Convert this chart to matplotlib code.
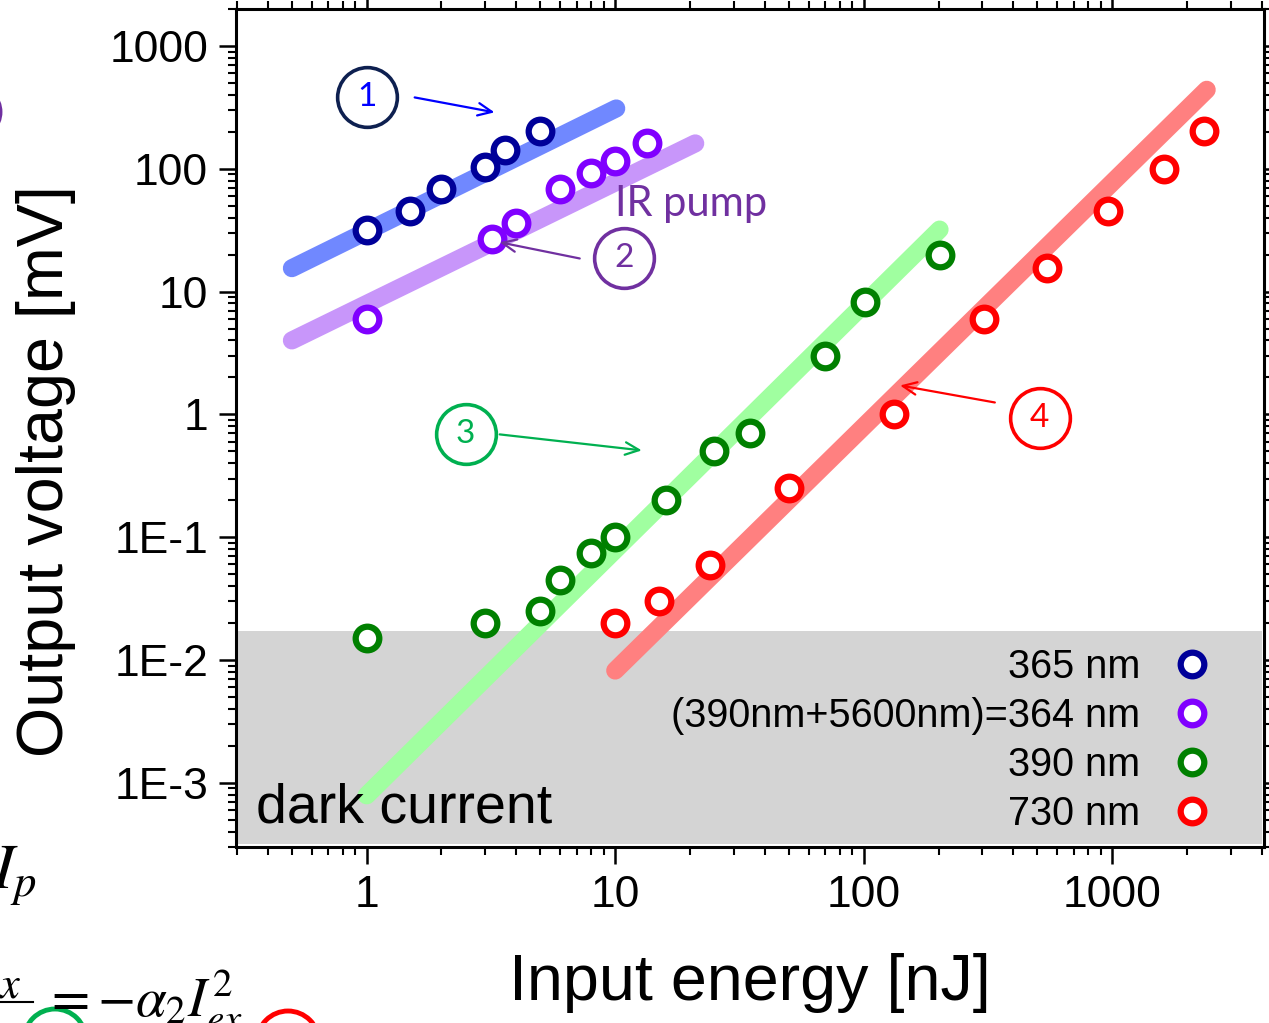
import matplotlib
matplotlib.use('Agg')
import matplotlib.pyplot as plt
from matplotlib.patches import Ellipse
from matplotlib.lines import Line2D
from matplotlib.transforms import IdentityTransform
from matplotlib.ticker import FixedLocator, LogLocator, NullFormatter

plt.rcParams['font.family'] = ['Liberation Sans', 'DejaVu Sans']
plt.rcParams['mathtext.fontset'] = 'stix'

# measured points (input energy nJ, output voltage mV)
x365 = [1.0, 1.5, 2.0, 3.0, 3.6, 5.0]
y365 = [32, 45, 69, 103, 141, 202]

x364 = [1.0, 3.2, 4.0, 6.0, 8.0, 10.0, 13.4]
y364 = [6.0, 26.6, 36, 68, 93, 115, 161]

x390 = [1.0, 3.0, 5.0, 6.0, 8.0, 10.0, 16, 25, 35, 70, 101, 202]
y390 = [0.015, 0.02, 0.025, 0.045, 0.075, 0.1, 0.2, 0.5, 0.71, 3.0, 8.2, 20]

x730 = [10, 15, 24, 50, 133, 304, 545, 960, 1610, 2350]
y730 = [0.02, 0.03, 0.059, 0.25, 1.0, 6.0, 15.7, 45, 99, 202]

# guide lines (slope 1 and slope 2), end points
fit365_x = [0.5, 10.1]
fit365_y = [15.5, 310]
fit364_x = [0.5, 21]
fit364_y = [4.0, 161]
fit390_x = [1.0, 202]
fit390_y = [7.9e-4, 32]
fit730_x = [10, 2400]
fit730_y = [8.2e-3, 440]

labels = ['365 nm', '(390nm+5600nm)=364 nm', '390 nm', '730 nm']
colors = ['#000099', '#8000ff', '#008000', '#ff0000']
fit_colors = ['#7088ff', '#c896fa', '#a0ffa0', '#ff8080']

dark_level = 0.0172

xticks = [1, 10, 100, 1000]
xticklabels = ['1', '10', '100', '1000']
yticks = [1e-3, 1e-2, 1e-1, 1, 10, 100, 1000]
yticklabels = ['1E-3', '1E-2', '1E-1', '1', '10', '100', '1000']

fig = plt.figure(figsize=(12.69, 10.23), dpi=100)
ax = fig.add_axes([236/1269, 1-847/1023, (1264-236)/1269, (847-9)/1023])
ax.set_xscale('log')
ax.set_yscale('log')
ax.set_xlim(0.298, 4080)
ax.set_ylim(3.0e-4, 2000)

ax.axhspan(3.2e-4, dark_level, xmin=0, xmax=0.998, color='#d4d4d4', lw=0, zorder=0)
ax.text(0.0195, 0.029, 'dark current', transform=ax.transAxes, fontsize=40, va='baseline')

fits = [(fit365_x, fit365_y), (fit364_x, fit364_y), (fit390_x, fit390_y), (fit730_x, fit730_y)]
for (fx, fy), c in zip(fits, fit_colors):
    ax.plot(fx, fy, color=c, lw=13, solid_capstyle='round', zorder=1)

series = [(x365, y365), (x364, y364), (x390, y390), (x730, y730)]
handles = []
for (sx, sy), c, lab in zip(series, colors, labels):
    h, = ax.plot(sx, sy, 'o', ms=17, mew=4.5, mfc='white', mec=c, ls='none', zorder=3, label=lab)
    handles.append(h)

ax.legend(handles=handles, loc='lower right', bbox_to_anchor=(0.949, 0.017), markerfirst=False,
          frameon=False, fontsize=28.5, handlelength=1.0, handletextpad=0.8, labelspacing=0.28,
          borderaxespad=0, borderpad=0)

# numbered circles with arrows
notes = [('1', 1.0, 381, (1.56, 381), (3.27, 288), '#0e2050', '#0000ff'),
         ('2', 10.9, 18.6, (7.2, 18.6), (3.43, 25.2), '#7030a0', '#7030a0'),
         ('3', 2.5, 0.687, (3.43, 0.687), (12.8, 0.509), '#00b050', '#00b050'),
         ('4', 511, 0.928, (337, 1.25), (140, 1.72), '#ff0000', '#ff0000')]
for num, cx, cy, start, end, ec, tc in notes:
    ax.plot([cx], [cy], 'o', ms=43, mfc='none', mec=ec, mew=2.6, zorder=4)
    ax.text(cx, cy, num, ha='center', va='center', fontsize=24, family='Lato', color=tc, zorder=5)
    ax.annotate('', xy=end, xytext=start,
                arrowprops=dict(arrowstyle='->,head_length=1.0,head_width=0.45', color=tc, lw=1.6,
                                shrinkA=0, shrinkB=0), zorder=4)

ax.text(0.369, 0.753, 'IR pump', transform=ax.transAxes, fontsize=30, family='Lato',
        color='#7030a0', va='baseline')

ax.xaxis.set_major_locator(FixedLocator(xticks))
ax.set_xticklabels(xticklabels)
ax.yaxis.set_major_locator(FixedLocator(yticks))
ax.set_yticklabels(yticklabels)
ax.xaxis.set_minor_locator(LogLocator(subs=range(2, 10), numticks=20))
ax.yaxis.set_minor_locator(LogLocator(subs=range(2, 10), numticks=20))
ax.xaxis.set_minor_formatter(NullFormatter())
ax.yaxis.set_minor_formatter(NullFormatter())
ax.tick_params(which='major', direction='out', length=12, width=1.8, labelsize=32, pad=8,
               top=True, right=True)
ax.tick_params(which='minor', direction='out', length=6, width=1.5, top=True, right=True)
for s in ax.spines.values():
    s.set_linewidth(2.2)

ax.set_xlabel('Input energy [nJ]', fontsize=46.5, labelpad=27)
ax.set_ylabel('Output voltage [mV]', fontsize=46.5, labelpad=24)
ax.yaxis.label.set_y(0.449)

# pieces of the neighbouring figure cut off at the left edge
fig.text(-8/1269, 1-889/1023, r'$I_p$', fontsize=46, va='baseline')
fig.text(22/1269, 1-998/1023, r'$ex$', fontsize=32, ha='right', va='baseline')
fig.add_artist(Line2D([0, 33], [1023-1002, 1023-1002], color='black', lw=1.5, transform=IdentityTransform()))
fig.text(43/1269, 1-1016/1023, r'$=-\alpha_2 I_{ex}^2$', fontsize=40, va='baseline')
fig.add_artist(Ellipse((55, 1023-1040), 62, 62, fill=False, ec='#00b050', lw=3.5, transform=IdentityTransform()))
fig.add_artist(Ellipse((288, 1023-1042), 62, 62, fill=False, ec='#ff0000', lw=3.5, transform=IdentityTransform()))
fig.add_artist(Ellipse((-26, 1023-112), 52, 52, fill=False, ec='#7030a0', lw=3.5, transform=IdentityTransform()))

fig.savefig('out.png', dpi=100)
